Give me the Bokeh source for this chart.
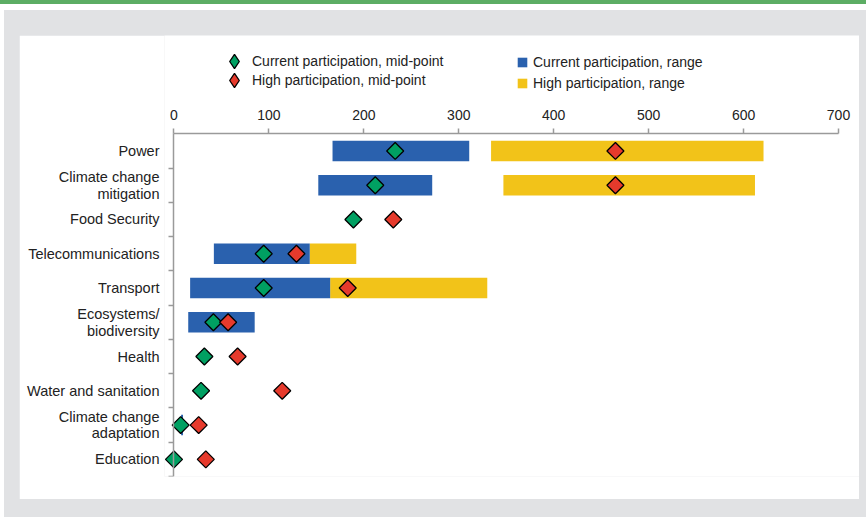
import numpy as np
from bokeh.plotting import figure
from bokeh.layouts import column
from bokeh.models import (Range1d, FixedTicker, ColumnDataSource, Legend, LegendItem,
                          LinearAxis, Div)
from bokeh.embed import file_html
from bokeh.resources import INLINE

# ---------------- data ----------------
categories = ["Power", "Climate change\nmitigation", "Food Security", "Telecommunications",
              "Transport", "Ecosystems/\nbiodiversity", "Health", "Water and sanitation",
              "Climate change\nadaptation", "Education"]
current_low = [167, 152, np.nan, 42, 17, 15, np.nan, np.nan, 7.5, np.nan]
current_high = [311, 272, np.nan, 143, 164.5, 85, np.nan, np.nan, 9.5, np.nan]
high_low = [334, 347, np.nan, 143, 164.5, np.nan, np.nan, np.nan, np.nan, np.nan]
high_high = [621, 612, np.nan, 192, 330, np.nan, np.nan, np.nan, np.nan, np.nan]
current_mid = [233, 212, 189, 94.5, 94.5, 41.5, 32, 28.5, 7, 0]
high_mid = [465, 465, 231, 129, 183, 57, 67, 114, 26, 33.5]
x_ticks = [0, 100, 200, 300, 400, 500, 600, 700]
legend_labels = ["Current participation, mid-point", "High participation, mid-point",
                 "Current participation, range", "High participation, range"]

FONT = "Liberation Sans"
TXT = "#222222"
AX = "#9a9a9a"
BLUE = "#2a61ae"
YELLOW = "#f2c319"
GREEN = "#00a062"
RED = "#e63a2c"
GRAY_BG = "#e1e2e4"

n = len(categories)
ypos = [i + 0.5 for i in range(n)]
src = ColumnDataSource(dict(y=ypos, cl=current_low, ch=current_high, hl=high_low, hh=high_high,
                            cm=current_mid, hm=high_mid))

# ---------------- chart (frame covers the legend area too) ----------------
p = figure(width=840, height=464, output_backend="svg", toolbar_location=None,
           x_range=Range1d(-10, 722.1), y_range=Range1d(n, -2.868),
           x_axis_location="above", y_axis_location="left",
           min_border_left=145, min_border_right=0, min_border_top=0, min_border_bottom=23)
p.border_fill_color = "white"
p.background_fill_color = "white"
p.outline_line_color = None
p.xgrid.visible = False
p.ygrid.visible = False

r_hr = p.hbar(y="y", left="hl", right="hh", height=0.6, source=src, fill_color=YELLOW, line_color=None)
r_cr = p.hbar(y="y", left="cl", right="ch", height=0.6, source=src, fill_color=BLUE, line_color=None)
r_cm = p.scatter(x="cm", y="y", source=src, marker="square", angle=np.pi / 4, size=12,
                 fill_color=GREEN, line_color="black", line_width=1.3)
r_hm = p.scatter(x="hm", y="y", source=src, marker="square", angle=np.pi / 4, size=12,
                 fill_color=RED, line_color="black", line_width=1.3)
# hidden twins, used only for the diamond keys of the legend
k_cm = p.scatter(x="cm", y="y", source=src, marker="diamond", size=12, visible=False,
                 fill_color=GREEN, line_color="black", line_width=1.3)
k_hm = p.scatter(x="hm", y="y", source=src, marker="diamond", size=12, visible=False,
                 fill_color=RED, line_color="black", line_width=1.3)

# x axis drawn at the top of the rows (y = 0)
xa = p.xaxis[0]
xa.fixed_location = 0
xa.ticker = FixedTicker(ticks=x_ticks)
xa.bounds = (0, 700)
xa.axis_line_color = AX
xa.axis_line_width = 1.5
xa.major_tick_line_color = AX
xa.major_tick_line_width = 1.5
xa.major_tick_out = 5
xa.major_tick_in = 0
xa.minor_tick_line_color = None
xa.major_label_standoff = 9
xa.major_label_text_font = FONT
xa.major_label_text_font_size = "14px"
xa.major_label_text_color = TXT

# category labels
ya = p.yaxis[0]
ya.ticker = FixedTicker(ticks=ypos)
ya.major_label_overrides = {y: c for y, c in zip(ypos, categories)}
ya.axis_line_color = None
ya.major_tick_line_color = None
ya.minor_tick_line_color = None
ya.major_tick_out = 0
ya.major_tick_in = 0
ya.major_label_standoff = 5
ya.major_label_text_font = FONT
ya.major_label_text_font_size = "14.5px"
ya.major_label_text_color = TXT
ya.major_label_text_line_height = 1.05

# axis line at x = 0, ticks between categories
ya2 = LinearAxis(fixed_location=0, bounds=(0, n),
                 ticker=FixedTicker(ticks=[], minor_ticks=list(range(1, n + 1))),
                 axis_line_color=AX, axis_line_width=1.5,
                 major_tick_line_color=None, minor_tick_line_color=AX, minor_tick_line_width=1.5,
                 minor_tick_in=5, minor_tick_out=0, major_label_standoff=0)
p.add_layout(ya2, "right")

common = dict(orientation="vertical", padding=0, margin=0, border_line_color=None,
              background_fill_alpha=0, inactive_fill_alpha=0, label_text_font=FONT,
              label_text_font_size="14px", label_text_color=TXT)
legA1 = Legend(items=[LegendItem(label=legend_labels[0], renderers=[k_cm])],
               location=(52, 397), glyph_width=36, glyph_height=36, label_standoff=0, **common)
legA2 = Legend(items=[LegendItem(label=legend_labels[1], renderers=[k_hm])],
               location=(52, 378), glyph_width=36, glyph_height=36, label_standoff=0, **common)
legB = Legend(items=[LegendItem(label=legend_labels[2], renderers=[r_cr]),
                     LegendItem(label=legend_labels[3], renderers=[r_hr])],
              location=(352, 385), glyph_width=12, glyph_height=12, label_height=17,
              spacing=4, label_standoff=5, **common)
p.add_layout(legA1)
p.add_layout(legA2)
p.add_layout(legB)

p.margin = (25, 7, 18, 15)
bar = Div(text="", width=866, height=4, styles={"background-color": "#5cad64"}, margin=0)
gray = column(p, styles={"background-color": GRAY_BG}, margin=(6, 0, 0, 4))
root = column(bar, gray, margin=0, spacing=0)

open("out.html", "w").write(file_html(root, INLINE))
